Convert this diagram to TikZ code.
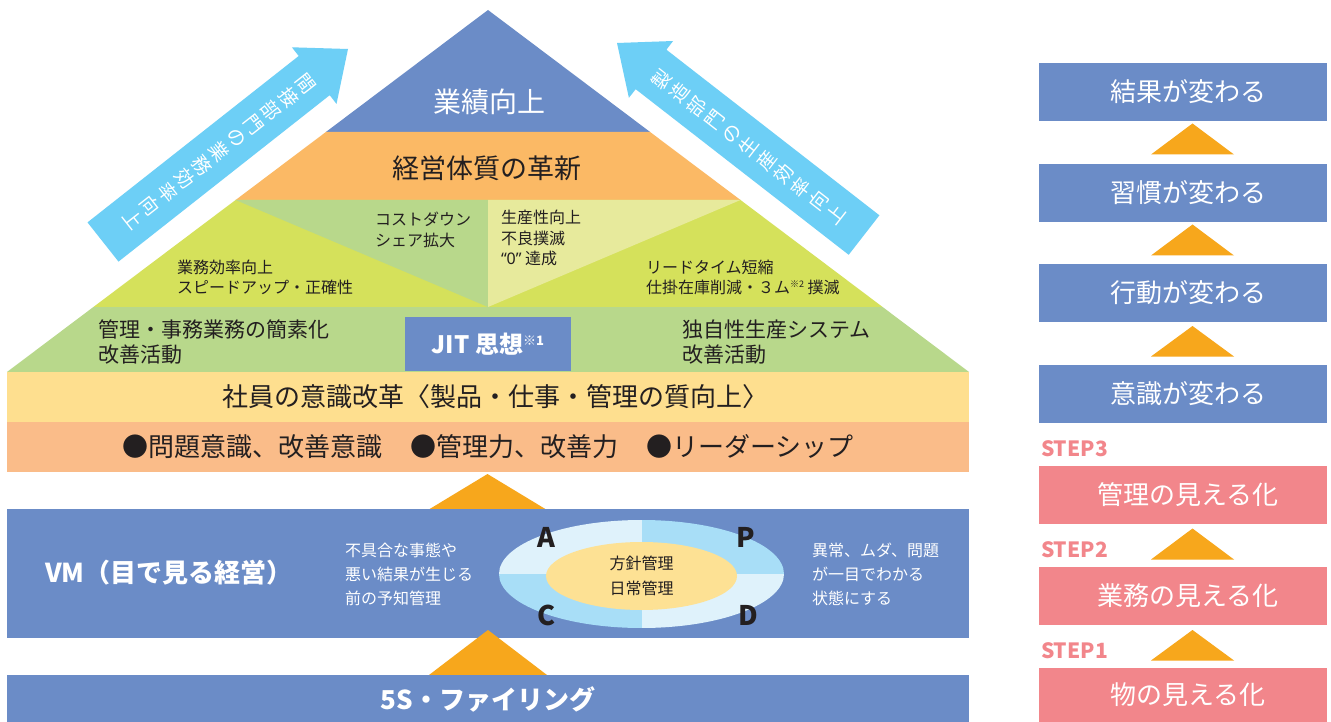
\documentclass[tikz,border=0pt]{standalone}
\usepackage{fontspec}
\setmainfont{Noto Sans CJK JP}
\newfontfamily\lat{Noto Sans}
\usetikzlibrary{shapes.geometric,calc}
\definecolor{vmblue}{HTML}{6B8CC7}
\definecolor{arrowblue}{HTML}{6DCFF6}
\definecolor{tri}{HTML}{F7A71C}
\definecolor{pinkbox}{HTML}{F2868B}
\definecolor{orangeband}{HTML}{FBB965}
\definecolor{greenband}{HTML}{B8D88B}
\definecolor{ygreen}{HTML}{D5E15B}
\definecolor{paleyellow}{HTML}{E7EA9C}
\definecolor{yellowband}{HTML}{FEDF8F}
\definecolor{salmon}{HTML}{FABC89}
\definecolor{innerell}{HTML}{FDE194}
\definecolor{qlight}{HTML}{DFF2FB}
\definecolor{qmid}{HTML}{A8DEF7}
\definecolor{darktext}{HTML}{231F20}
\tikzset{
  rbox/.style={fill=vmblue, minimum width=288, minimum height=58, text=white, font=\fontsize{26}{26}\selectfont},
  pbox/.style={fill=pinkbox, minimum width=288, minimum height=58, text=white, font=\fontsize{26}{26}\selectfont},
  steplabel/.style={anchor=west, text=pinkbox, font=\fontsize{21}{21}\selectfont\bfseries},
  smalltxt/.style={anchor=west, align=left, text=darktext, font=\fontsize{16}{20.5}\selectfont},
  midtxt/.style={anchor=west, align=left, text=darktext, font=\fontsize{21}{25}\selectfont},
  desctxt/.style={anchor=west, align=left, text=white, font=\fontsize{16}{24}\selectfont},
  bandtxt/.style={text=darktext, font=\fontsize{26}{26}\selectfont},
  pdcaletter/.style={text=darktext, font=\fontsize{27}{27}\selectfont\bfseries},
  arrowtxt/.style={align=center, text=white, font=\fontsize{19}{22}\selectfont},
  uptri/.style={fill=tri}
}
\begin{document}
\begin{tikzpicture}[x=1pt,y=-1pt, every node/.style={inner sep=0pt, outer sep=0pt}]
\useasboundingbox (0,0) rectangle (1331,722);
\fill[white] (0,0) rectangle (1331,722);

% pyramid
\fill[vmblue] (488,10) -- (650.1,132) -- (325.9,132) -- cycle;
\fill[orangeband] (325.9,132) -- (650.1,132) -- (740.5,200) -- (235.6,200) -- cycle;
\fill[ygreen] (235.6,200) -- (740.5,200) -- (882.6,307) -- (93.4,307) -- cycle;
\fill[greenband] (235.6,200) -- (488,200) -- (488,307) -- cycle;
\fill[paleyellow] (488,200) -- (740.5,200) -- (488,307) -- cycle;
\fill[greenband] (93.4,307) -- (882.6,307) -- (969,372) -- (7,372) -- cycle;
\fill[yellowband] (7,372) rectangle (969,422);
\fill[salmon] (7,422) rectangle (969,471.5);

% side arrows
\fill[arrowblue] (87.5,222.4) -- (298.7,56) -- (291.9,47.3) -- (348,49) -- (336.5,103.9) -- (329.7,95.2) -- (118.5,261.6) -- cycle;
\fill[arrowblue] (879.4,215.3) -- (666.4,49.7) -- (673.1,41) -- (617,43) -- (628.9,97.8) -- (635.7,89.2) -- (848.7,254.8) -- cycle;
\node[arrowtxt, rotate=-51.8] (lat) at (219.5,151.5) {間\\接\\部\\門\\の\\業\\務\\効\\率\\向\\上};
\node[arrowtxt, rotate=52.1] (rat) at (748.5,146.5) {製\\造\\部\\門\\の\\生\\産\\効\\率\\向\\上};

% pyramid texts
\node[text=white, font=\fontsize{28}{28}\selectfont] (gyoseki) at (489,102) {業績向上};
\node[text=darktext, font=\fontsize{27}{27}\selectfont] (keiei) at (487,168) {経営体質の革新};
\node[smalltxt] (cost) at (375,230) {コストダウン\\シェア拡大};
\node[smalltxt] (seisan) at (501,238) {生産性向上\\不良撲滅\\{\lat “0”} 達成};
\node[smalltxt] (gyomu) at (177,277.5) {業務効率向上\\スピードアップ・正確性};
\node[smalltxt] (lead) at (646,277.5) {リードタイム短縮\\仕掛在庫削減・３ム\raisebox{6pt}{\fontsize{9}{9}\selectfont ※2} 撲滅};
\node[midtxt] (kanri) at (98,342.5) {管理・事務業務の簡素化\\改善活動};
\node[midtxt] (dokuji) at (682,342.5) {独自性生産システム\\改善活動};
\node[fill=vmblue, minimum width=166, minimum height=54, text=white, font=\fontsize{24}{24}\selectfont\bfseries] (jit) at (488,344) {JIT 思想\raisebox{8pt}{\fontsize{13}{13}\selectfont\bfseries ※1}};
\node[bandtxt] (shain) at (495,397) {社員の意識改革〈製品・仕事・管理の質向上〉};
\node[bandtxt] (mondai) at (488,447) {●問題意識、改善意識\hspace{28pt}●管理力、改善力\hspace{28pt}●リーダーシップ};

% VM band
\fill[uptri] (428,510) -- (547,510) -- (487.5,474) -- cycle;
\node[fill=vmblue, minimum width=962, minimum height=129] (vm) at (488,573.5) {};
\node[anchor=west, text=white, font=\fontsize{26}{26}\selectfont\bfseries] (vmtxt) at (45,573) {VM（目で見る経営）};
\node[desctxt] (yochi) at (345,574) {不具合な事態や\\悪い結果が生じる\\前の予知管理};
\node[desctxt] (ijo) at (812,574) {異常、ムダ、問題\\が一目でわかる\\状態にする};
\node[ellipse, minimum width=285, minimum height=108,
  path picture={
    \fill[qlight] (path picture bounding box.north west) rectangle (path picture bounding box.center);
    \fill[qmid] (path picture bounding box.north east) rectangle (path picture bounding box.center);
    \fill[qmid] (path picture bounding box.south west) rectangle (path picture bounding box.center);
    \fill[qlight] (path picture bounding box.south east) rectangle (path picture bounding box.center);
  }] (pdca) at (641.5,574) {};
\node[ellipse, fill=innerell, minimum width=191, minimum height=68, align=center, text=darktext, font=\fontsize{16}{25}\selectfont] (hoshin) at (641.5,576) {方針管理\\日常管理};
\node[pdcaletter] (la) at (546,537) {A};
\node[pdcaletter] (lp) at (746,537) {P};
\node[pdcaletter] (lc) at (546,615) {C};
\node[pdcaletter] (ld) at (748,615) {D};

% 5S band
\fill[uptri] (429,675) -- (547,675) -- (488,630) -- cycle;
\node[fill=vmblue, minimum width=962, minimum height=47] (fives) at (488,698.5) {};
\node[text=white, font=\fontsize{26}{26}\selectfont\bfseries] (fivestxt) at (488,699) {5S・ファイリング};

% right column
\node[rbox] (r1) at (1183,91.7) {\hspace*{10pt}結果が変わる};
\node[rbox] (r2) at (1183,193) {\hspace*{10pt}習慣が変わる};
\node[rbox] (r3) at (1183,293) {\hspace*{10pt}行動が変わる};
\node[rbox] (r4) at (1183,394) {\hspace*{10pt}意識が変わる};
\node[steplabel] (s3) at (1041,449) {STEP3};
\node[pbox] (p3) at (1183,495) {\hspace*{10pt}管理の見える化};
\node[steplabel] (s2) at (1041,550) {STEP2};
\node[pbox] (p2) at (1183,596) {\hspace*{10pt}業務の見える化};
\node[steplabel] (s1) at (1041,651) {STEP1};
\node[pbox, minimum height=54] (p1) at (1183,695) {\hspace*{10pt}物の見える化};
\fill[uptri] (1151,154.5) -- (1234,154.5) -- (1192.5,123.5) -- cycle;
\fill[uptri] (1151,255.5) -- (1234,255.5) -- (1192.5,224.5) -- cycle;
\fill[uptri] (1151,356.5) -- (1234,356.5) -- (1192.5,326) -- cycle;
\fill[uptri] (1151,559.5) -- (1234,559.5) -- (1192.5,528.5) -- cycle;
\fill[uptri] (1151,660.5) -- (1234,660.5) -- (1192.5,630) -- cycle;
\end{tikzpicture}
\end{document}
